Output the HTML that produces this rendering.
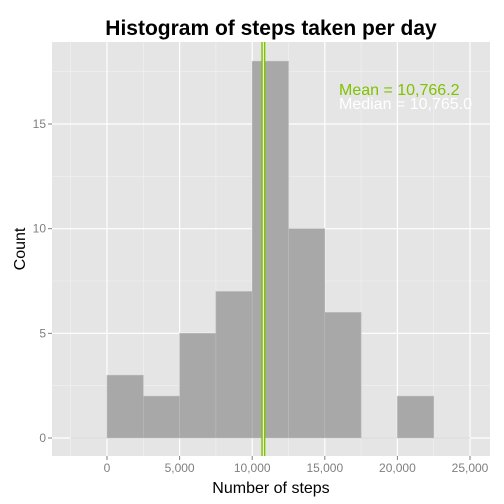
<!DOCTYPE html>
<html><head><style>body{margin:0;background:#fff}svg{display:block;font-family:"Liberation Sans",sans-serif}</style></head>
<body>
<svg id="c" width="504" height="504"></svg>
<script>
const binStarts=[-2500,0,2500,5000,7500,10000,12500,15000,17500,20000,22500];
const counts=[0,3,2,5,7,18,10,6,0,2,0];
const xTicks=[0,5000,10000,15000,20000,25000];
const xTickLabels=["0","5,000","10,000","15,000","20,000","25,000"];
const yTicks=[0,5,10,15];
const meanVal=10766.2, medianVal=10765.0;
const binW=2500;
const L=52,R=490,T=42,B=456;
const x=v=>107+(v-0)*(363/25000);
const y=v=>438-v*(314/15);
const s=document.getElementById('c');
const NS='http://www.w3.org/2000/svg';
function mk(t,a,p){const e=document.createElementNS(NS,t);for(const k in a)e.setAttribute(k,a[k]);(p||s).appendChild(e);return e;}
let e=mk('rect',{x:L,y:T,width:R-L,height:B-T,fill:'#e5e5e5'});

for(let v=-2500;v<=25000;v+=2500){if(v%5000!==0){e=mk('line',{x1:x(v),x2:x(v),y1:T,y2:B,stroke:'#f2f2f2','stroke-width':0.6});}}
for(let v=2.5;v<20;v+=5){e=mk('line',{x1:L,x2:R,y1:y(v),y2:y(v),stroke:'#f2f2f2','stroke-width':0.6});}
xTicks.forEach(v=>{e=mk('line',{x1:x(v),x2:x(v),y1:T,y2:B,stroke:'#fff','stroke-width':1.2});});
yTicks.forEach(v=>{e=mk('line',{x1:L,x2:R,y1:y(v),y2:y(v),stroke:'#fff','stroke-width':1.2});});
binStarts.forEach((b,i)=>{const c=counts[i];
e=mk('rect',{x:x(b),y:y(c),width:x(b+binW)-x(b),height:Math.max(y(0)-y(c),0.01),fill:'#a8a8a8',stroke:'#bdbdbd','stroke-width':0.6});
});
e=mk('line',{x1:x(meanVal),x2:x(meanVal),y1:T,y2:B,stroke:'#7fc200','stroke-width':4});
e=mk('line',{x1:x(medianVal),x2:x(medianVal),y1:T,y2:B,stroke:'#fff','stroke-width':1});
e=mk('text',{x:339,y:95,fill:'#7fc200','font-size':16});e.textContent='Mean = 10,766.2';
e=mk('text',{x:339,y:109,fill:'#fff','font-size':16});e.textContent='Median = 10,765.0';
xTicks.forEach((v,i)=>{e=mk('line',{x1:x(v),x2:x(v),y1:B,y2:B+4,stroke:'#7f7f7f'});
e=mk('text',{x:x(v),y:B+16,'text-anchor':'middle','font-size':12,fill:'#7f7f7f'});e.textContent=xTickLabels[i];});
yTicks.forEach(v=>{e=mk('line',{x1:L-4,x2:L,y1:y(v),y2:y(v),stroke:'#7f7f7f'});
e=mk('text',{x:L-6,y:y(v)+4,'text-anchor':'end','font-size':12,fill:'#7f7f7f'});e.textContent=v;});
e=mk('text',{x:271,y:493,'text-anchor':'middle','font-size':16});e.textContent='Number of steps';
e=mk('text',{x:25,y:249,'text-anchor':'middle','font-size':16,transform:'rotate(-90 25 249)'});e.textContent='Count';
e=mk('text',{x:271,y:35,'text-anchor':'middle','font-size':21,'font-weight':'bold'});e.textContent='Histogram of steps taken per day';
</script>
</body></html>
